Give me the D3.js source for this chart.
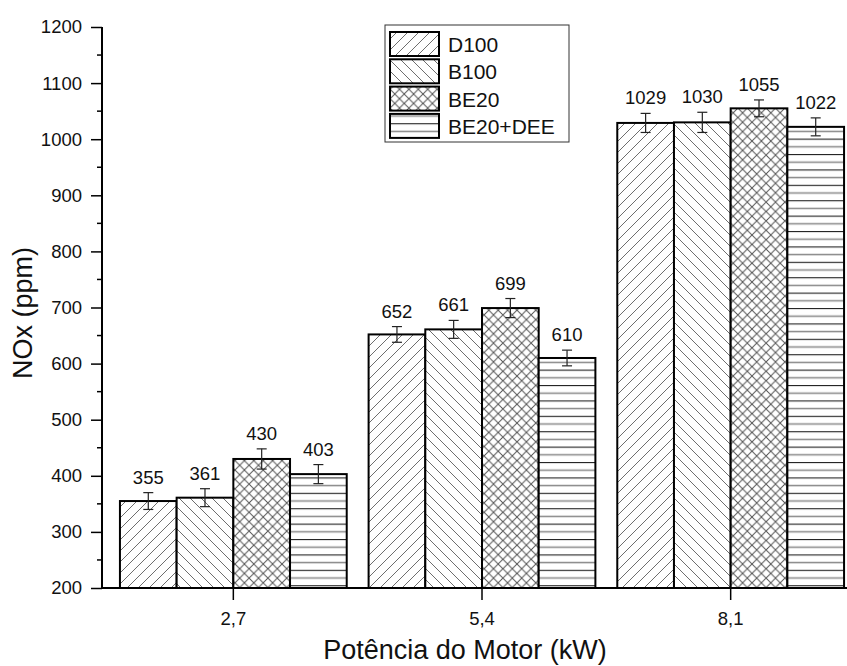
<!DOCTYPE html>
<html>
<head>
<meta charset="utf-8">
<script src="https://cdn.jsdelivr.net/npm/d3@7"></script>
<style>
  body { margin: 0; background: #fff; }
  svg { display: block; font-family: "Liberation Sans", Arial, sans-serif; }
</style>
</head>
<body>
<div id="chart"></div>
<script>
const categories = ['2,7', '5,4', '8,1'];
const seriesNames = ['D100', 'B100', 'BE20', 'BE20+DEE'];
const d100 = [355, 652, 1029];
const b100 = [361, 661, 1030];
const be20 = [430, 699, 1055];
const be20dee = [403, 610, 1022];
const d100Err = [15, 14, 17];
const b100Err = [16, 16, 18];
const be20Err = [18, 17, 15];
const be20deeErr = [17, 14, 16];
const yTicks = [200, 300, 400, 500, 600, 700, 800, 900, 1000, 1100, 1200];

const values = [d100, b100, be20, be20dee];
const errors = [d100Err, b100Err, be20Err, be20deeErr];
const patternIds = ['p-fwd', 'p-back', 'p-cross', 'p-horiz'];
const FONT = '"Liberation Sans", Arial, sans-serif';

const W = 847, H = 666;
const svg = d3.select('#chart').append('svg')
    .attr('width', W)
    .attr('height', H);

// hatch patterns
const defs = svg.append('defs');
const hatch = '#6e6e6e';

const fwd = defs.append('pattern').attr('id', 'p-fwd')
    .attr('patternUnits', 'userSpaceOnUse').attr('width', 11).attr('height', 11);
fwd.append('rect').attr('width', 11).attr('height', 11).attr('fill', '#fff');
fwd.append('path').attr('d', 'M0,11 L11,0 M-3,3 L3,-3 M8,14 L14,8')
    .attr('stroke', hatch).attr('stroke-width', 1);

const back = defs.append('pattern').attr('id', 'p-back')
    .attr('patternUnits', 'userSpaceOnUse').attr('width', 11).attr('height', 11);
back.append('rect').attr('width', 11).attr('height', 11).attr('fill', '#fff');
back.append('path').attr('d', 'M0,0 L11,11 M-3,8 L3,14 M8,-3 L14,3')
    .attr('stroke', hatch).attr('stroke-width', 1);

const cross = defs.append('pattern').attr('id', 'p-cross')
    .attr('patternUnits', 'userSpaceOnUse').attr('width', 9.4).attr('height', 9.4);
cross.append('rect').attr('width', 9.4).attr('height', 9.4).attr('fill', '#fff');
cross.append('path').attr('d', 'M0,0 L9.4,9.4 M0,9.4 L9.4,0')
    .attr('stroke', '#555').attr('stroke-width', 1);

const horiz = defs.append('pattern').attr('id', 'p-horiz')
    .attr('patternUnits', 'userSpaceOnUse').attr('width', 10).attr('height', 15.4);
horiz.append('rect').attr('width', 10).attr('height', 15.4).attr('fill', '#fff');
horiz.append('line').attr('x1', 0).attr('x2', 10).attr('y1', 0.5).attr('y2', 0.5)
    .attr('stroke', '#222').attr('stroke-width', 1.2);
horiz.append('line').attr('x1', 0).attr('x2', 10).attr('y1', 8.2).attr('y2', 8.2)
    .attr('stroke', '#888').attr('stroke-width', 1.5);

// scales
const x0 = d3.scaleBand()
    .domain(categories)
    .range([109, 855])
    .padding(0);

const x1 = d3.scaleBand()
    .domain(seriesNames)
    .range([0, x0.bandwidth()])
    .paddingInner(0)
    .paddingOuter(0.193);

const y = d3.scaleLinear()
    .domain([200, 1200])
    .range([588, 27]);

const rows = [];
categories.forEach((c, ci) => {
    seriesNames.forEach((s, si) => {
        rows.push({ cat: c, series: s, si, value: values[si][ci], err: errors[si][ci] });
    });
});

// bars
const bars = svg.append('g');
bars.selectAll('rect')
    .data(rows)
    .enter().append('rect')
    .attr('x', d => x0(d.cat) + x1(d.series))
    .attr('y', d => y(d.value))
    .attr('width', x1.bandwidth())
    .attr('height', d => y(200) - y(d.value))
    .attr('fill', d => `url(#${patternIds[d.si]})`)
    .attr('stroke', '#000')
    .attr('stroke-width', 2);

// error bars
const eb = svg.append('g').attr('stroke', '#222').attr('stroke-width', 1.2);
rows.forEach(d => {
    const cx = x0(d.cat) + x1(d.series) + x1.bandwidth() / 2;
    eb.append('line').attr('x1', cx).attr('x2', cx)
        .attr('y1', y(d.value + d.err)).attr('y2', y(d.value - d.err));
    eb.append('line').attr('x1', cx - 5).attr('x2', cx + 5)
        .attr('y1', y(d.value + d.err)).attr('y2', y(d.value + d.err));
    eb.append('line').attr('x1', cx - 5).attr('x2', cx + 5)
        .attr('y1', y(d.value - d.err)).attr('y2', y(d.value - d.err));
});

// value labels
svg.append('g').selectAll('text')
    .data(rows)
    .enter().append('text')
    .attr('x', d => x0(d.cat) + x1(d.series) + x1.bandwidth() / 2)
    .attr('y', d => y(d.value + d.err) - 9)
    .attr('text-anchor', 'middle')
    .attr('font-size', 18.5)
    .attr('fill', '#111')
    .text(d => d.value);

// y axis
const yAxis = svg.append('g')
    .attr('transform', 'translate(102,0)')
    .call(d3.axisLeft(y).tickValues(yTicks).tickFormat(d3.format('d')).tickSize(11).tickPadding(9));
yAxis.select('.domain').attr('stroke-width', 2).attr('d', `M0,${y(1200)}V${y(200)}`);
yAxis.selectAll('.tick line').attr('stroke-width', 1.5);
yAxis.selectAll('.tick text').attr('font-size', 18.5).attr('font-family', FONT).attr('fill', '#111');

// minor ticks
svg.append('g').selectAll('line')
    .data(d3.range(250, 1200, 100))
    .enter().append('line')
    .attr('x1', 97).attr('x2', 102)
    .attr('y1', d => y(d)).attr('y2', d => y(d))
    .attr('stroke', '#000').attr('stroke-width', 1.5);

// x axis
const xAxis = svg.append('g')
    .attr('transform', `translate(0,${y(200)})`)
    .call(d3.axisBottom(x0).tickSize(12).tickPadding(12));
xAxis.select('.domain').attr('stroke-width', 2).attr('d', `M102,0H${W}`);
xAxis.selectAll('.tick line').attr('stroke-width', 1.5);
xAxis.selectAll('.tick text').attr('font-size', 18.5).attr('font-family', FONT).attr('fill', '#111');

// axis titles
svg.append('text')
    .attr('transform', 'translate(32,313) rotate(-90)')
    .attr('text-anchor', 'middle')
    .attr('font-size', 27)
    .attr('fill', '#111')
    .text('NOx (ppm)');

svg.append('text')
    .attr('x', 465)
    .attr('y', 659)
    .attr('text-anchor', 'middle')
    .attr('font-size', 27)
    .attr('fill', '#111')
    .text('Potência do Motor (kW)');

// legend
const legend = svg.append('g');
legend.append('rect')
    .attr('x', 385).attr('y', 25).attr('width', 184).attr('height', 117)
    .attr('fill', '#fff').attr('stroke', '#333').attr('stroke-width', 1);
seriesNames.forEach((s, i) => {
    const ly = 32 + i * 27.3;
    legend.append('rect')
        .attr('x', 390).attr('y', ly).attr('width', 49).attr('height', 24)
        .attr('fill', `url(#${patternIds[i]})`)
        .attr('stroke', '#000').attr('stroke-width', 2);
    legend.append('text')
        .attr('x', 448).attr('y', ly + 20)
        .attr('font-size', 21)
        .attr('fill', '#111')
        .text(s);
});
</script>
</body>
</html>
